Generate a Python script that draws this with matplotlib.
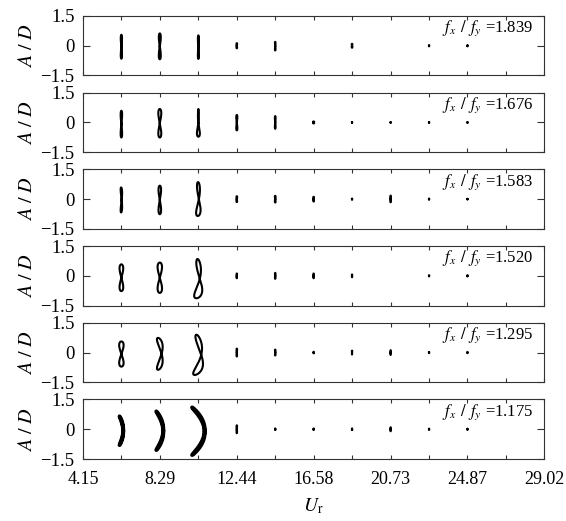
import numpy as np
import matplotlib
matplotlib.use("Agg")
import matplotlib.pyplot as plt
from matplotlib.ticker import FixedLocator, NullFormatter

plt.rcParams["font.family"] = ["Liberation Serif", "DejaVu Serif"]
plt.rcParams["mathtext.fontset"] = "stix"

# Reduced velocities at which orbits were recorded
UR_POS = [6.22, 8.29, 10.37, 12.44, 14.51, 16.58, 18.65, 20.73, 22.80, 24.87]
X_MAJOR = [4.15, 8.29, 12.44, 16.58, 20.73, 24.87, 29.02]
X_MINOR = [6.22, 10.37, 14.51, 18.65, 22.80, 26.95]
RATIOS = ["1.839", "1.676", "1.583", "1.520", "1.295", "1.175"]

# Cross-flow extremes A/D of each orbit (one row per frequency ratio)
AY_MAX = [
    [0.55, 0.62, 0.52, 0.13, 0.20, 0.00, 0.10, 0.00, 0.03, 0.03],
    [0.59, 0.68, 0.68, 0.38, 0.32, 0.05, 0.02, 0.02, 0.02, 0.02],
    [0.59, 0.68, 0.86, 0.15, 0.17, 0.12, 0.03, 0.18, 0.03, 0.02],
    [0.58, 0.67, 0.85, 0.12, 0.15, 0.12, 0.07, 0.00, 0.03, 0.03],
    [0.56, 0.74, 0.90, 0.20, 0.15, 0.04, 0.10, 0.12, 0.03, 0.03],
    [0.65, 0.90, 1.10, 0.20, 0.04, 0.04, 0.04, 0.10, 0.03, 0.03],
]
AY_MIN = [
    [-0.65, -0.68, -0.66, -0.13, -0.24, 0.00, -0.10, 0.00, -0.03, -0.03],
    [-0.76, -0.76, -0.72, -0.40, -0.32, -0.05, -0.02, -0.02, -0.02, -0.02],
    [-0.67, -0.76, -0.85, -0.15, -0.17, -0.12, -0.03, -0.16, -0.03, -0.02],
    [-0.77, -0.86, -1.13, -0.12, -0.15, -0.12, -0.07, 0.00, -0.03, -0.03],
    [-0.71, -0.87, -1.13, -0.20, -0.15, -0.04, -0.10, -0.12, -0.03, -0.03],
    [-0.80, -1.05, -1.30, -0.20, -0.04, -0.04, -0.04, -0.10, -0.03, -0.03],
]
# In-line half-excursion of each orbit, in U_r axis units
AX = [
    [0.030, 0.050, 0.025, 0.020, 0.015, 0.000, 0.020, 0.000, 0.010, 0.010],
    [0.040, 0.080, 0.050, 0.030, 0.020, 0.030, 0.010, 0.010, 0.010, 0.010],
    [0.040, 0.070, 0.100, 0.020, 0.020, 0.020, 0.010, 0.015, 0.010, 0.010],
    [0.100, 0.120, 0.170, 0.015, 0.015, 0.015, 0.010, 0.000, 0.010, 0.010],
    [0.120, 0.155, 0.220, 0.015, 0.015, 0.010, 0.010, 0.010, 0.010, 0.010],
    [0.100, 0.190, 0.340, 0.015, 0.010, 0.010, 0.010, 0.010, 0.010, 0.010],
]
# Phase between in-line and cross-flow motion for the three large orbits
PHASE_BIG = [
    [1.57, 1.57, 1.57],
    [1.57, 1.57, 1.57],
    [1.20, 1.57, 1.30],
    [1.57, 1.57, 1.10],
    [1.57, 0.90, 0.80],
    [0.15, 0.15, 0.12],
]
# Lobe asymmetry (positive: lower lobe wider) for the three large orbits
SKEW_BIG = [
    [0.0, 0.0, 0.0],
    [0.0, 0.0, 0.8],
    [0.0, 0.0, 0.3],
    [0.0, 0.0, 0.4],
    [0.0, 0.0, 0.3],
    [0.0, 0.0, 0.0],
]
LW_BIG = [1.6, 1.5, 1.5, 1.5, 1.5, 2.8]

t = np.linspace(0, 2 * np.pi, 400)

fig, axes = plt.subplots(6, 1, sharex=True, figsize=(5.66, 5.21), dpi=100)
fig.subplots_adjust(left=0.1466, right=0.962, top=0.9693, bottom=0.119,
                    hspace=0.289)

for i, ax in enumerate(axes):
    for j, ur in enumerate(UR_POS):
        top, bot = AY_MAX[i][j], AY_MIN[i][j]
        if top == 0 and bot == 0:
            continue
        yc = 0.5 * (top + bot)
        ay = 0.5 * (top - bot)
        if j < 3:
            phase = PHASE_BIG[i][j]
            skew = SKEW_BIG[i][j]
            lw = LW_BIG[i]
        else:
            phase, skew, lw = 1.57, 0.0, 1.5
        y = yc + ay * np.sin(t)
        x = ur + AX[i][j] * np.cos(2 * t - phase) * (1 - skew * np.sin(t))
        ax.plot(x, y, color="black", lw=lw, solid_capstyle="round")

    ax.set_xlim(4.15, 29.02)
    ax.set_ylim(-1.5, 1.5)
    ax.set_yticks([-1.5, 0, 1.5])
    ax.set_yticklabels(["\u22121.5", "0", "1.5"])
    ax.xaxis.set_major_locator(FixedLocator(X_MAJOR))
    ax.xaxis.set_minor_locator(FixedLocator(X_MINOR))
    ax.xaxis.set_minor_formatter(NullFormatter())
    ax.tick_params(axis="x", which="both", direction="in", top=True,
                   bottom=True, length=3, width=0.8, color="#333333",
                   labelsize=13, pad=8.5)
    ax.tick_params(axis="y", which="both", direction="in", left=True,
                   right=True, length=5, width=0.8, color="#333333",
                   labelsize=13.5, pad=6)
    for sp in ax.spines.values():
        sp.set_linewidth(0.8)
        sp.set_color("#333333")
    ax.set_ylabel(r"$A\ /\ D$", fontsize=14.5)
    ax.yaxis.set_label_coords(-0.10, 0.5)
    ax.text(0.975, 0.79, r"$f_x\;\,/\;\,f_y$" + " =" + RATIOS[i],
            transform=ax.transAxes, ha="right", va="center", fontsize=12)

axes[-1].set_xticklabels([f"{v:.2f}" for v in X_MAJOR])
axes[-1].set_xlabel(r"$U_{\mathrm{r}}$", fontsize=14, labelpad=6)

fig.savefig("out.png", dpi=100)
